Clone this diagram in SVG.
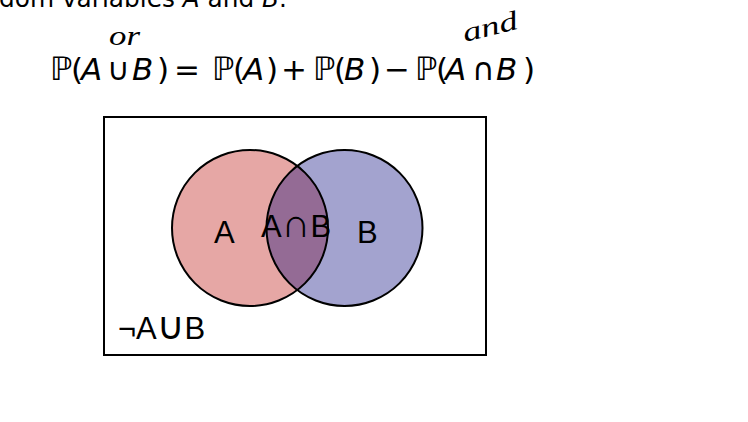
<svg xmlns="http://www.w3.org/2000/svg" width="748" height="422" viewBox="0 0 748 422">
<style>
.t{font-family:"DejaVu Sans","Liberation Sans",sans-serif;fill:#000}
.eq{font-family:"DejaVu Sans",sans-serif;font-size:31px}
.it{font-style:italic}
.hw{font-family:"Liberation Serif",serif;font-style:italic;font-size:27px}
.lbl{font-family:"Liberation Sans","DejaVu Sans",sans-serif;font-size:31px}
.ring{fill:none;stroke:#000;stroke-width:2}
</style>
<rect width="748" height="422" fill="#fff"/>
<text class="t" x="-1" y="7" font-size="25" textLength="288" lengthAdjust="spacingAndGlyphs" font-family="Liberation Sans,sans-serif">dom variables <tspan font-style="italic">A</tspan> and <tspan font-style="italic">B</tspan>.</text>
<g id="equation">
<text class="eq" y="80"><tspan x="50" font-size="32">ℙ</tspan><tspan x="71">(</tspan><tspan x="81" class="it">A</tspan><tspan x="107">∪</tspan><tspan x="132" class="it">B</tspan><tspan x="157">)</tspan><tspan x="174">=</tspan><tspan x="212" font-size="32">ℙ</tspan><tspan x="233">(</tspan><tspan x="243" class="it">A</tspan><tspan x="266">)</tspan><tspan x="281">+</tspan><tspan x="313" font-size="32">ℙ</tspan><tspan x="334">(</tspan><tspan x="344" class="it">B</tspan><tspan x="369">)</tspan><tspan x="384">−</tspan><tspan x="415" font-size="32">ℙ</tspan><tspan x="436">(</tspan><tspan x="445" class="it">A</tspan><tspan x="472">∩</tspan><tspan x="496" class="it">B</tspan><tspan x="523">)</tspan></text>
</g>
<g id="note-or"><text class="hw" x="109" y="45" textLength="31" lengthAdjust="spacingAndGlyphs">or</text></g>
<g id="note-and"><text class="hw" x="465" y="42" textLength="56" lengthAdjust="spacingAndGlyphs" transform="rotate(-14 465 42)">and</text></g>
<g id="universe"><rect x="104" y="117" width="382" height="238" fill="#fff" stroke="#000" stroke-width="2"/></g>
<defs>
<clipPath id="cA"><circle cx="250" cy="228" r="78"/></clipPath>
</defs>
<g id="setA"><circle cx="250" cy="228" r="78" fill="#e6a7a5"/></g>
<g id="setB"><circle cx="344.5" cy="228" r="78" fill="#a3a3cf"/></g>
<g id="intersection"><circle cx="344.5" cy="228" r="78" fill="#946b95" clip-path="url(#cA)"/></g>
<g id="outlines">
<circle class="ring" cx="250" cy="228" r="78"/>
<circle class="ring" cx="344.5" cy="228" r="78"/>
</g>
<g id="labels">
<text class="lbl" x="214" y="243">A</text>
<text class="lbl" x="261" y="237">A<tspan font-size="40">∩</tspan>B</text>
<text class="lbl" x="357" y="243">B</text>
<text class="lbl" x="118" y="339" font-size="29">¬A<tspan font-size="38">∪</tspan>B</text>
</g>
</svg>
